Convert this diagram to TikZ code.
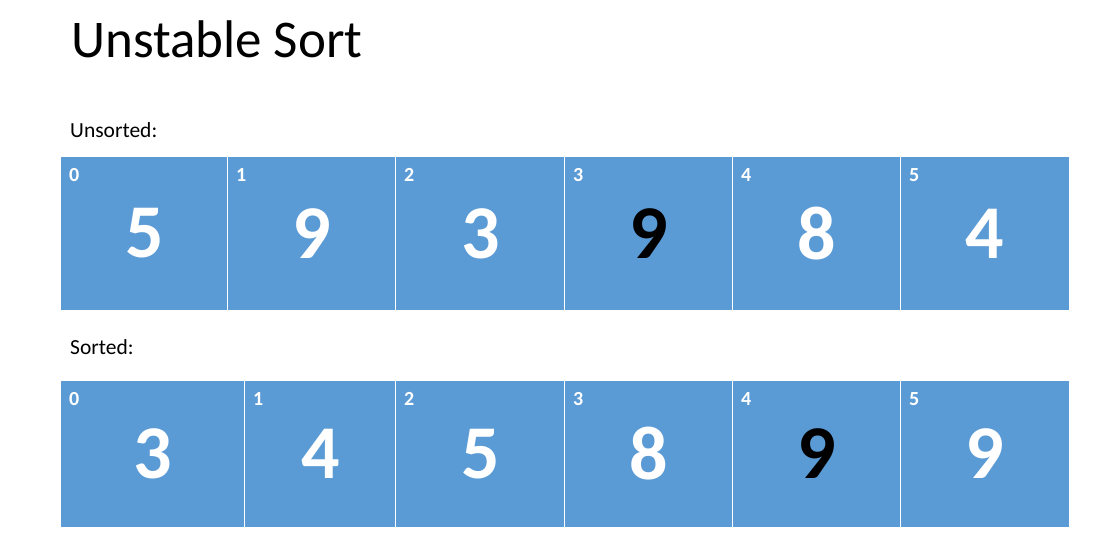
\documentclass[tikz,border=0pt]{standalone}
\usepackage{fontspec}
\setmainfont{Carlito}
\definecolor{cellblue}{HTML}{5B9BD5}
\begin{document}
\begin{tikzpicture}[x=1pt,y=-1pt,
  cellbox/.style={fill=cellblue,draw=white,line width=1.2pt,inner sep=0pt,
    font=\fontsize{76}{76}\selectfont\bfseries,text=white},
  idx/.style={anchor=north west,inner sep=0pt,font=\fontsize{20}{20}\selectfont\bfseries,text=white},
  heading/.style={anchor=base west,inner sep=0pt,font=\fontsize{21.5}{21.5}\selectfont}]
\useasboundingbox[fill=white] (0,0) rectangle (1107,541);
\node[anchor=base west,inner sep=0pt,font=\fontsize{53}{53}\selectfont] (title) at (71,57) {Unstable Sort};
\node[heading] (lu) at (70,137) {Unsorted:};
\node[heading] (ls) at (70,354) {Sorted:};
% top row
\foreach \i/\a/\b/\v/\c in {0/61/228/5/white,1/228/396/9/white,2/396/565/3/white,3/565/733/9/black,4/733/901/8/white,5/901/1069/4/white}{
  \node[cellbox,minimum width={\b-\a+1},minimum height=154,text=\c] (u\i) at ({(\a+\b)/2},233.5) {\v};
  \node[idx] (ui\i) at ([shift={(9,12)}]u\i.north west) {\i};
}
% bottom row
\foreach \i/\a/\b/\v/\c in {0/61/245/3/white,1/245/396/4/white,2/396/565/5/white,3/565/733/8/white,4/733/901/9/black,5/901/1069/9/white}{
  \node[cellbox,minimum width={\b-\a+1},minimum height=147,text=\c] (s\i) at ({(\a+\b)/2},454) {\v};
  \node[idx] (si\i) at ([shift={(9,12)}]s\i.north west) {\i};
}
\end{tikzpicture}
\end{document}
